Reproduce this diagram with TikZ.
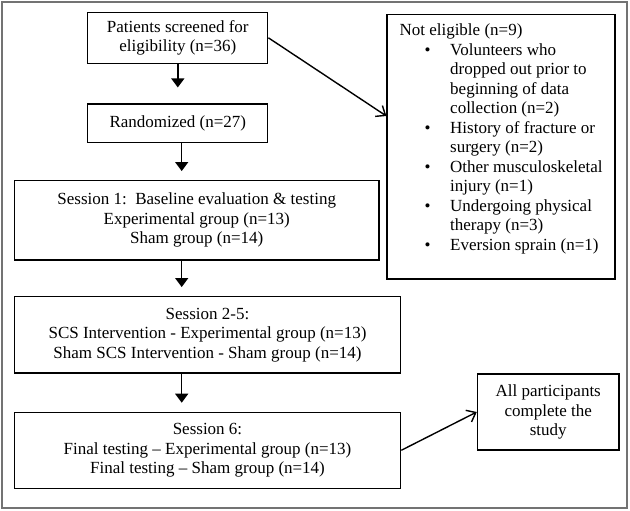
\documentclass[tikz,border=0pt]{standalone}
\usepackage{fontspec}
\setmainfont{Liberation Serif}
\usetikzlibrary{arrows.meta,calc}
\newcommand{\nebul}{\makebox[50.7pt][l]{\hspace{25pt}\textbullet}}
\newcommand{\neind}{\hspace*{50.7pt}}
\begin{document}
\begin{tikzpicture}[x=1pt,y=-1pt,
  box/.style={draw=black,line width=1.2pt,inner sep=0pt,align=center,font=\fontsize{17}{19.5}\selectfont},
  dn/.style={line width=1.4pt,-{Triangle[length=9pt,width=13pt]}},
  oa/.style={line width=1.4pt,-{Straight Barb[length=8pt,width=13pt]}}]
\useasboundingbox (0,0) rectangle (630,511);
\draw[gray!90!black,line width=2pt] (1.7,2) rectangle (627,508);

\node[box,minimum width=180pt,minimum height=51pt] (b1) at (177.8,37.8) {Patients screened for\\eligibility (n=36)};
\node[box,minimum width=180pt,minimum height=38.7pt] (b2) at (177.8,123.4) {Randomized (n=27)};
\node[box,minimum width=364.7pt,minimum height=79.3pt] (b3) at (196.7,220.3) {Session 1:\ \ Baseline evaluation \& testing\\Experimental group (n=13)\\Sham group (n=14)};
\node[box,minimum width=386.4pt,minimum height=76.3pt] (b4) at (207.5,334.8) {Session 2-5:\\SCS Intervention - Experimental group (n=13)\\Sham SCS Intervention - Sham group (n=14)};
\node[box,minimum width=386.4pt,minimum height=76pt] (b5) at (207.5,450.3) {Session 6:\\Final testing -- Experimental group (n=13)\\Final testing -- Sham group (n=14)};
\node[box,minimum width=228pt,minimum height=264.7pt] (ne) at (501,146.7) {};
\node[anchor=north west,inner sep=0pt,align=left,font=\fontsize{17}{19.5}\selectfont] (netext) at (399.3,24) {Not eligible (n=9)\\
\nebul Volunteers who\\
\neind dropped out prior to\\
\neind beginning of data\\
\neind collection (n=2)\\
\nebul History of fracture or\\
\neind surgery (n=2)\\
\nebul Other musculoskeletal\\
\neind injury (n=1)\\
\nebul Undergoing physical\\
\neind therapy (n=3)\\
\nebul Eversion sprain (n=1)};
\node[box,minimum width=141.7pt,minimum height=76pt] (b6) at (548.2,412) {All participants\\complete the\\study};

\coordinate (ax) at (181.7,0);
\coordinate (neIn) at (0,116);
\draw[dn,shorten >=16pt] (b1.south) -- (b2.north);
\draw[dn,shorten >=9pt] (b2.south -| ax) -- (b3.north -| ax);
\draw[dn,shorten >=9pt] (b3.south -| ax) -- (b4.north -| ax);
\draw[dn,shorten >=9pt] (b4.south -| ax) -- (b5.north -| ax);
\draw[oa] (b1.east) -- (ne.west |- neIn);
\draw[oa] (b5.east) -- (b6.west);
\end{tikzpicture}
\end{document}
